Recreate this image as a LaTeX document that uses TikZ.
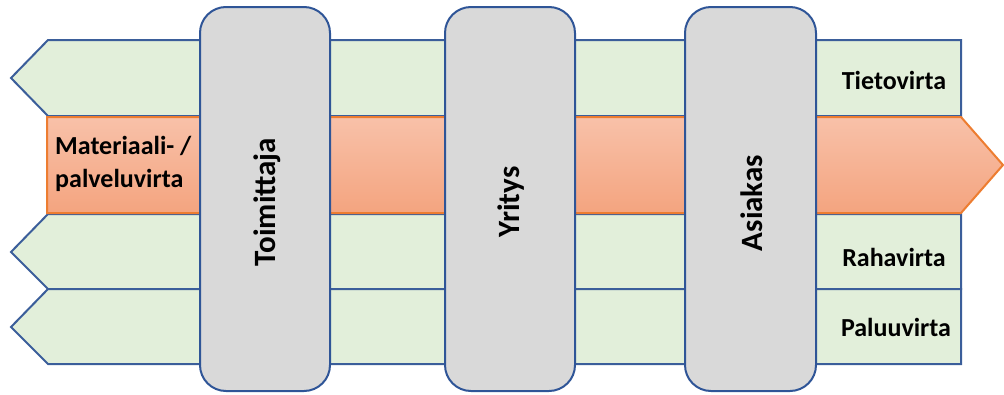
\documentclass[tikz,border=0pt]{standalone}
\usepackage{fontspec}
\setmainfont{Carlito}
\definecolor{flowgreen}{HTML}{E2EFDA}
\definecolor{flowblue}{HTML}{2F5597}
\definecolor{flowline}{HTML}{3B5E9A}
\definecolor{orangetop}{HTML}{F8C1A9}
\definecolor{orangebot}{HTML}{F4A47F}
\definecolor{orangeedge}{HTML}{ED7D31}
\definecolor{boxgray}{HTML}{D9D9D9}
\tikzset{
  backflow/.style={fill=flowgreen, draw=flowline, line width=2pt, line join=miter},
  mainflow/.style={top color=orangetop, bottom color=orangebot, draw=orangeedge, line width=2pt},
  party/.style={draw=flowblue, fill=boxgray, line width=2pt, rounded corners=26pt},
  flowlabel/.style={font=\fontsize{26}{33}\selectfont\bfseries, inner sep=0pt},
  partylabel/.style={font=\fontsize{31}{36}\selectfont\bfseries, rotate=90, inner sep=0pt}
}
\begin{document}
\begin{tikzpicture}[x=1pt, y=-1pt]
\useasboundingbox (0,0) rectangle (1004,394);

% flows running backwards (right to left)
\draw[backflow] (961,40) -- (48,40) -- (11,78) -- (48,116) -- (961,116) -- cycle;
\draw[backflow] (961,214) -- (48,214) -- (11,252) -- (48,289) -- (961,289) -- cycle;
\draw[backflow] (961,289) -- (48,289) -- (11,327) -- (48,364) -- (961,364) -- cycle;

% material / service flow (left to right)
\draw[mainflow] (47,117) -- (961,117) -- (1003,165) -- (961,213) -- (47,213) -- cycle;

% parties of the chain
\draw[party] (200,7) rectangle (330,391);
\draw[party] (445,7) rectangle (575,391);
\draw[party] (685,7) rectangle (816,391);

\node[partylabel] (toimittaja) at (267,202) {Toimittaja};
\node[partylabel] (yritys) at (511,202) {Yritys};
\node[partylabel] (asiakas) at (752,203) {Asiakas};

% flow names
\node[flowlabel, anchor=west, align=left] (materiaali) at (55,164) {Materiaali- /\\palveluvirta};
\node[flowlabel] (tieto) at (894,80) {Tietovirta};
\node[flowlabel] (raha) at (894,257) {Rahavirta};
\node[flowlabel] (paluu) at (896,327) {Paluuvirta};
\end{tikzpicture}
\end{document}
